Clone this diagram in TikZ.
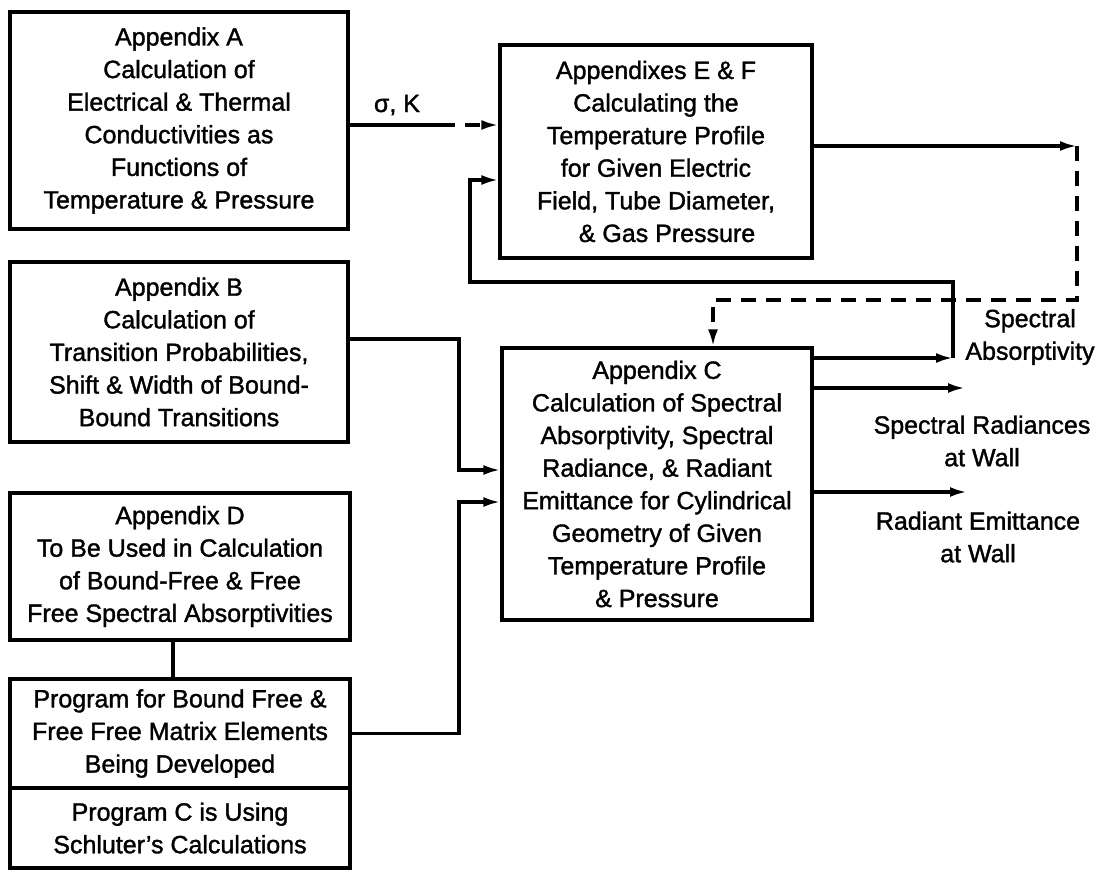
\documentclass[tikz,border=0pt]{standalone}
\usepackage{fontspec}
\setmainfont{Liberation Sans}[UprightFeatures={FakeBold=1.4}]
\usetikzlibrary{arrows.meta, positioning}
\newcommand{\boxfont}{\fontsize{25}{32.6}\selectfont}

\begin{document}
\begin{tikzpicture}[
    x=1pt, y=-1pt,
    every node/.style={font=\boxfont},
    block/.style={rectangle, draw, line width=3.2pt, align=center, inner sep=0pt},
    link/.style={line width=3.2pt},
    arrow/.style={-{Latex[length=17pt, width=10pt]}, line width=3.2pt},
    broken/.style={dash pattern=on 15pt off 10pt}
]
\useasboundingbox (0,0) rectangle (1105,871);

% Appendix A
\node[block, minimum width=338pt, minimum height=217pt] (appa) at (179,120.5) {Appendix A\\Calculation of\\Electrical \& Thermal\\Conductivities as\\Functions of\\Temperature \& Pressure};

% Appendixes E & F
\node[block, minimum width=312pt, minimum height=213pt] (appef) at (656,151.5) {Appendixes E \& F\\Calculating the\\Temperature Profile\\for Given Electric\\Field, Tube Diameter,\\\hspace*{22pt}\& Gas Pressure};

% Appendix B
\node[block, minimum width=338pt, minimum height=180pt] (appb) at (179,352) {Appendix B\\Calculation of\\Transition Probabilities,\\Shift \& Width of Bound-\\Bound Transitions};

% Appendix C
\node[block, minimum width=310pt, minimum height=272pt] (appc) at (657,484) {Appendix C\\Calculation of Spectral\\Absorptivity, Spectral\\Radiance, \& Radiant\\Emittance for Cylindrical\\Geometry of Given\\Temperature Profile\\\& Pressure};

% Appendix D and programs
\node[block, minimum width=340pt, minimum height=147pt] (appd) at (180,566.5) {Appendix D\\To Be Used in Calculation\\of Bound-Free \& Free\\Free Spectral Absorptivities};
\node[block, minimum width=340pt, minimum height=109pt] (progd) at (180,733.5) {Program for Bound Free \&\\Free Free Matrix Elements\\Being Developed};
\node[block, minimum width=340pt, minimum height=80pt] (progc) at (180,828) {Program C is Using\\Schluter's Calculations};

% Labels
\node (sigk) at (397,105) {σ, K};
\node[align=center] (specabs) at (1030,337) {Spectral\\Absorptivity};
\node[align=center] (specrad) at (982,441) {Spectral Radiances\\at Wall};
\node[align=center] (radem) at (978,537) {Radiant Emittance\\at Wall};

% A to E&F
\coordinate (ksplit) at (440,125);
\draw[link] (appa.east |- ksplit) -- (ksplit);
\draw[arrow, broken] (ksplit) -- (ksplit -| appef.west);

% E&F to C (dashed loop)
\coordinate (efout) at (1077,146);
\coordinate (cin) at (713,300);
\draw[arrow] (efout -| appef.east) -- (efout);
\draw[arrow, broken] (efout) |- (cin) -- (cin |- appc.north);

% Spectral absorptivity fed back to E&F
\coordinate (absout) at (953,358);
\coordinate (fbturn) at (470,282);
\coordinate (fbin) at (470,180);
\draw[arrow] (absout -| appc.east) -- (absout);
\draw[arrow] (absout) |- (fbturn) -- (fbin) -- (fbin -| appef.west);

% B and programs to C
\coordinate (bturn) at (459,339);
\draw[arrow] (appb.east |- bturn) -- (bturn) |- ([yshift=14pt]appc.west);
\draw[arrow] (progd.east) -- (progd.east -| bturn) |- ([yshift=-18pt]appc.west);
\draw[link] ([xshift=-7pt]appd.south) -- ([xshift=-7pt]progd.north);

% Outputs
\coordinate (radout) at (965,388);
\coordinate (emout) at (967,492);
\draw[arrow] (radout -| appc.east) -- (radout);
\draw[arrow] (emout -| appc.east) -- (emout);
\end{tikzpicture}
\end{document}
